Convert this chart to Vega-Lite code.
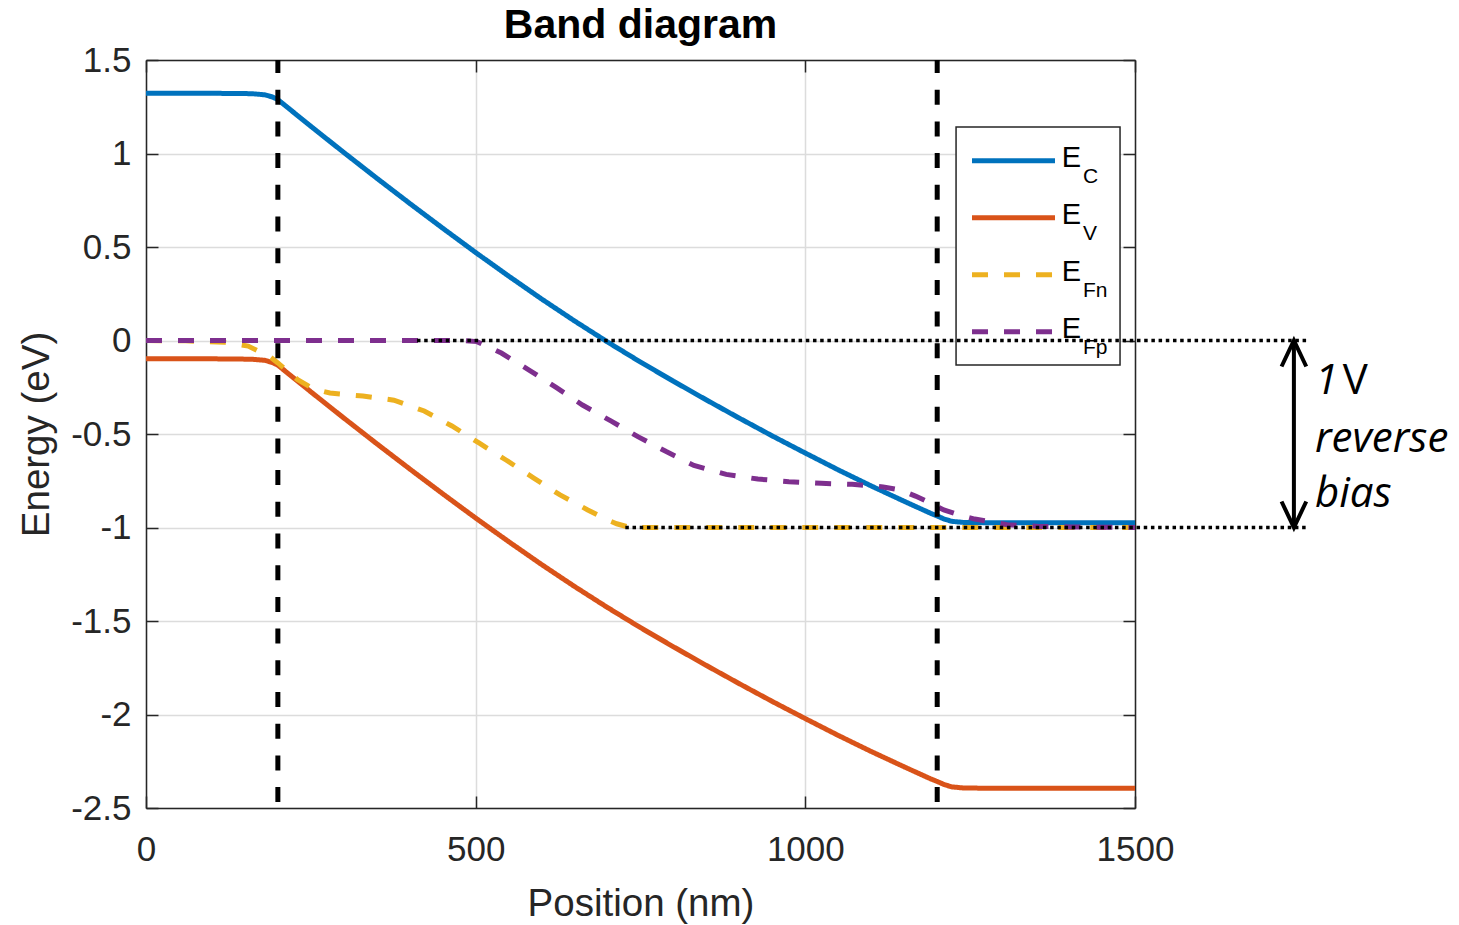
{
  "$schema": "https://vega.github.io/schema/vega-lite/v6.json",
  "width": 989,
  "height": 748,
  "autosize": "none",
  "padding": {"left": 146, "top": 60, "right": 324, "bottom": 117},
  "background": "white",
  "config": {
    "view": {"stroke": null},
    "axis": {
      "domainColor": "#262626",
      "domainWidth": 1.5,
      "tickColor": "#262626",
      "tickWidth": 1.5,
      "tickSize": -12,
      "gridColor": "#dcdcdc",
      "gridWidth": 1.5,
      "labelFont": "Liberation Sans",
      "labelFontSize": 35,
      "labelColor": "#262626",
      "labelFlush": false,
      "labelOverlap": false,
      "titleFont": "Liberation Sans",
      "titleFontSize": 38.5,
      "titleFontWeight": "normal",
      "titleColor": "#262626"
    }
  },
  "datasets": {
    "bands": [
      {"band": "E_C", "position": 0, "energy": 1.322},
      {"band": "E_C", "position": 100, "energy": 1.322},
      {"band": "E_C", "position": 160, "energy": 1.32},
      {"band": "E_C", "position": 180, "energy": 1.314},
      {"band": "E_C", "position": 192, "energy": 1.302},
      {"band": "E_C", "position": 200, "energy": 1.288},
      {"band": "E_C", "position": 250, "energy": 1.1455},
      {"band": "E_C", "position": 300, "energy": 1.0055},
      {"band": "E_C", "position": 350, "energy": 0.868},
      {"band": "E_C", "position": 400, "energy": 0.733},
      {"band": "E_C", "position": 450, "energy": 0.6005},
      {"band": "E_C", "position": 500, "energy": 0.4705},
      {"band": "E_C", "position": 550, "energy": 0.3445},
      {"band": "E_C", "position": 600, "energy": 0.222},
      {"band": "E_C", "position": 650, "energy": 0.1045},
      {"band": "E_C", "position": 700, "energy": -0.008},
      {"band": "E_C", "position": 750, "energy": -0.1155},
      {"band": "E_C", "position": 800, "energy": -0.218},
      {"band": "E_C", "position": 850, "energy": -0.318},
      {"band": "E_C", "position": 900, "energy": -0.4155},
      {"band": "E_C", "position": 950, "energy": -0.5105},
      {"band": "E_C", "position": 977, "energy": -0.56},
      {"band": "E_C", "position": 1000, "energy": -0.602},
      {"band": "E_C", "position": 1050, "energy": -0.692},
      {"band": "E_C", "position": 1100, "energy": -0.778},
      {"band": "E_C", "position": 1150, "energy": -0.86},
      {"band": "E_C", "position": 1190, "energy": -0.924},
      {"band": "E_C", "position": 1200, "energy": -0.938},
      {"band": "E_C", "position": 1210, "energy": -0.954},
      {"band": "E_C", "position": 1222, "energy": -0.967},
      {"band": "E_C", "position": 1240, "energy": -0.973},
      {"band": "E_C", "position": 1300, "energy": -0.975},
      {"band": "E_C", "position": 1500, "energy": -0.975},
      {"band": "E_V", "position": 0, "energy": -0.098},
      {"band": "E_V", "position": 100, "energy": -0.098},
      {"band": "E_V", "position": 160, "energy": -0.1},
      {"band": "E_V", "position": 180, "energy": -0.106},
      {"band": "E_V", "position": 192, "energy": -0.118},
      {"band": "E_V", "position": 200, "energy": -0.132},
      {"band": "E_V", "position": 250, "energy": -0.2745},
      {"band": "E_V", "position": 300, "energy": -0.4145},
      {"band": "E_V", "position": 350, "energy": -0.552},
      {"band": "E_V", "position": 400, "energy": -0.687},
      {"band": "E_V", "position": 450, "energy": -0.8195},
      {"band": "E_V", "position": 500, "energy": -0.9495},
      {"band": "E_V", "position": 550, "energy": -1.0755},
      {"band": "E_V", "position": 600, "energy": -1.198},
      {"band": "E_V", "position": 650, "energy": -1.3155},
      {"band": "E_V", "position": 700, "energy": -1.428},
      {"band": "E_V", "position": 750, "energy": -1.5355},
      {"band": "E_V", "position": 800, "energy": -1.638},
      {"band": "E_V", "position": 850, "energy": -1.738},
      {"band": "E_V", "position": 900, "energy": -1.8355},
      {"band": "E_V", "position": 950, "energy": -1.9305},
      {"band": "E_V", "position": 977, "energy": -1.98},
      {"band": "E_V", "position": 1000, "energy": -2.022},
      {"band": "E_V", "position": 1050, "energy": -2.112},
      {"band": "E_V", "position": 1100, "energy": -2.198},
      {"band": "E_V", "position": 1150, "energy": -2.28},
      {"band": "E_V", "position": 1190, "energy": -2.344},
      {"band": "E_V", "position": 1200, "energy": -2.358},
      {"band": "E_V", "position": 1210, "energy": -2.374},
      {"band": "E_V", "position": 1222, "energy": -2.387},
      {"band": "E_V", "position": 1240, "energy": -2.393},
      {"band": "E_V", "position": 1300, "energy": -2.395},
      {"band": "E_V", "position": 1500, "energy": -2.395},
      {"band": "E_Fn", "position": 0, "energy": 0},
      {"band": "E_Fn", "position": 60, "energy": -0.002},
      {"band": "E_Fn", "position": 120, "energy": -0.01},
      {"band": "E_Fn", "position": 155, "energy": -0.03},
      {"band": "E_Fn", "position": 188, "energy": -0.087},
      {"band": "E_Fn", "position": 200, "energy": -0.12},
      {"band": "E_Fn", "position": 230, "energy": -0.21},
      {"band": "E_Fn", "position": 255, "energy": -0.26},
      {"band": "E_Fn", "position": 279, "energy": -0.281},
      {"band": "E_Fn", "position": 329, "energy": -0.297},
      {"band": "E_Fn", "position": 376, "energy": -0.319},
      {"band": "E_Fn", "position": 422, "energy": -0.377},
      {"band": "E_Fn", "position": 464, "energy": -0.457},
      {"band": "E_Fn", "position": 505, "energy": -0.548},
      {"band": "E_Fn", "position": 546, "energy": -0.639},
      {"band": "E_Fn", "position": 587, "energy": -0.733},
      {"band": "E_Fn", "position": 628, "energy": -0.826},
      {"band": "E_Fn", "position": 670, "energy": -0.906},
      {"band": "E_Fn", "position": 700, "energy": -0.96},
      {"band": "E_Fn", "position": 714, "energy": -0.98},
      {"band": "E_Fn", "position": 734, "energy": -1.0},
      {"band": "E_Fn", "position": 1500, "energy": -1.0},
      {"band": "E_Fp", "position": 0, "energy": 0},
      {"band": "E_Fp", "position": 480, "energy": 0},
      {"band": "E_Fp", "position": 502, "energy": -0.006},
      {"band": "E_Fp", "position": 520, "energy": -0.035},
      {"band": "E_Fp", "position": 539, "energy": -0.067},
      {"band": "E_Fp", "position": 581, "energy": -0.158},
      {"band": "E_Fp", "position": 622, "energy": -0.251},
      {"band": "E_Fp", "position": 662, "energy": -0.345},
      {"band": "E_Fp", "position": 705, "energy": -0.43},
      {"band": "E_Fp", "position": 746, "energy": -0.514},
      {"band": "E_Fp", "position": 789, "energy": -0.594},
      {"band": "E_Fp", "position": 831, "energy": -0.668},
      {"band": "E_Fp", "position": 880, "energy": -0.716},
      {"band": "E_Fp", "position": 928, "energy": -0.741},
      {"band": "E_Fp", "position": 975, "energy": -0.755},
      {"band": "E_Fp", "position": 1024, "energy": -0.764},
      {"band": "E_Fp", "position": 1071, "energy": -0.769},
      {"band": "E_Fp", "position": 1118, "energy": -0.783},
      {"band": "E_Fp", "position": 1145, "energy": -0.8},
      {"band": "E_Fp", "position": 1167, "energy": -0.832},
      {"band": "E_Fp", "position": 1190, "energy": -0.87},
      {"band": "E_Fp", "position": 1210, "energy": -0.906},
      {"band": "E_Fp", "position": 1235, "energy": -0.935},
      {"band": "E_Fp", "position": 1257, "energy": -0.955},
      {"band": "E_Fp", "position": 1306, "energy": -0.985},
      {"band": "E_Fp", "position": 1354, "energy": -0.994},
      {"band": "E_Fp", "position": 1401, "energy": -0.997},
      {"band": "E_Fp", "position": 1500, "energy": -1.0}
    ],
    "interfaces": [
      {"position": 200},
      {"position": 1200}
    ],
    "legendItems": [
      {"band": "E_C", "sub": "C"},
      {"band": "E_V", "sub": "V"},
      {"band": "E_Fn", "sub": "Fn"},
      {"band": "E_Fp", "sub": "Fp"}
    ],
    "biasLevels": [
      {"start": 411, "end": 1762, "energy": 0},
      {"start": 727, "end": 1762, "energy": -1}
    ],
    "biasArrow": [
      {"position": 1741, "from": 0, "to": -1}
    ],
    "biasItalic": [
      {"label": "1", "position": 1773, "energy": -0.286},
      {"label": "reverse", "position": 1773, "energy": -0.595},
      {"label": "bias", "position": 1773, "energy": -0.89}
    ],
    "biasUnit": [
      {"label": "V", "position": 1815, "energy": -0.286}
    ]
  },
  "layer": [
    {
      "layer": [
        {
          "data": {"name": "bands"},
          "mark": {"type": "line", "strokeWidth": 5, "strokeCap": "butt"},
          "encoding": {
            "x": {
              "field": "position",
              "type": "quantitative",
              "scale": {"domain": [0, 1500], "nice": false, "zero": false},
              "axis": {
                "orient": "bottom",
                "title": "Position (nm)",
                "values": [0, 500, 1000, 1500],
                "format": "d",
                "grid": true,
                "labelBaseline": "alphabetic",
                "labelPadding": 64,
                "titleBaseline": "alphabetic",
                "titleY": 107
              }
            },
            "y": {
              "field": "energy",
              "type": "quantitative",
              "scale": {"domain": [-2.5, 1.5], "nice": false, "zero": false},
              "axis": {
                "orient": "left",
                "title": "Energy (eV)",
                "values": [-2.5, -2, -1.5, -1, -0.5, 0, 0.5, 1, 1.5],
                "labelExpr": "replace(format(datum.value, ''), '\u2212', '-')",
                "grid": true,
                "labelPadding": 27,
                "titleBaseline": "alphabetic",
                "titleX": -98
              }
            },
            "color": {
              "field": "band",
              "type": "nominal",
              "scale": {
                "domain": ["E_C", "E_V", "E_Fn", "E_Fp"],
                "range": ["#0072BD", "#D95319", "#EDB120", "#7E2F8E"]
              },
              "legend": null
            },
            "strokeDash": {
              "field": "band",
              "type": "nominal",
              "scale": {
                "domain": ["E_C", "E_V", "E_Fn", "E_Fp"],
                "range": [[1, 0], [1, 0], [16, 16], [16, 16]]
              },
              "legend": null
            }
          }
        },
        {
          "data": {"name": "interfaces"},
          "mark": {"type": "rule", "strokeWidth": 5, "color": "#000000", "strokeDash": [15, 16.7], "strokeDashOffset": 2},
          "encoding": {
            "x": {"field": "position", "type": "quantitative", "scale": {"domain": [0, 1500], "nice": false, "zero": false}}
          }
        },
        {
          "data": {"values": [{}]},
          "mark": {"type": "rect", "fill": "white", "stroke": "#262626", "strokeWidth": 1.5},
          "encoding": {
            "x": {"datum": 1228.6, "type": "quantitative", "scale": {"domain": [0, 1500], "nice": false, "zero": false}},
            "x2": {"datum": 1477.3},
            "y": {"datum": 1.1417, "type": "quantitative"},
            "y2": {"datum": -0.131}
          }
        }
      ]
    },
    {
      "data": {"name": "legendItems"},
      "encoding": {
        "y": {
          "field": "band",
          "type": "ordinal",
          "scale": {"type": "point", "domain": ["E_C", "E_V", "E_Fn", "E_Fp"], "range": [100.7, 271.7], "padding": 0},
          "axis": null
        }
      },
      "layer": [
        {
          "mark": {"type": "rule", "strokeWidth": 5, "strokeCap": "butt"},
          "encoding": {
            "x": {"datum": 1252.8, "type": "quantitative", "scale": {"domain": [0, 1500], "nice": false, "zero": false}, "axis": null},
            "x2": {"datum": 1378.7},
            "color": {"field": "band", "type": "nominal", "legend": null},
            "strokeDash": {"field": "band", "type": "nominal", "legend": null}
          }
        },
        {
          "mark": {"type": "text", "text": "E", "font": "Liberation Sans", "fontSize": 29, "align": "left", "baseline": "alphabetic", "dy": 6, "color": "#000000"},
          "encoding": {
            "x": {"datum": 1388.9, "type": "quantitative", "axis": null}
          }
        },
        {
          "mark": {"type": "text", "font": "Liberation Sans", "fontSize": 21, "align": "left", "baseline": "alphabetic", "dy": 22, "color": "#000000"},
          "encoding": {
            "x": {"datum": 1421.2, "type": "quantitative", "axis": null},
            "text": {"field": "sub"}
          }
        }
      ]
    },
    {
      "layer": [
        {
          "data": {"name": "biasLevels"},
          "mark": {"type": "rule", "strokeWidth": 3.5, "color": "#000000", "strokeDash": [3.5, 3.7], "strokeCap": "butt"},
          "encoding": {
            "x": {
              "field": "start",
              "type": "quantitative",
              "scale": {"domain": [0, 1500], "nice": false, "zero": false},
              "axis": {"orient": "top", "labels": false, "grid": false, "title": null, "values": [0, 500, 1000, 1500]}
            },
            "x2": {"field": "end"},
            "y": {
              "field": "energy",
              "type": "quantitative",
              "scale": {"domain": [-2.5, 1.5], "nice": false, "zero": false},
              "axis": {"orient": "right", "labels": false, "grid": false, "title": null, "values": [-2.5, -2, -1.5, -1, -0.5, 0, 0.5, 1, 1.5]}
            }
          }
        },
        {
          "data": {"name": "biasArrow"},
          "mark": {"type": "rule", "strokeWidth": 4, "color": "#000000"},
          "encoding": {
            "x": {"field": "position", "type": "quantitative"},
            "y": {"field": "from", "type": "quantitative"},
            "y2": {"field": "to"}
          }
        },
        {
          "data": {"name": "biasArrow"},
          "mark": {"type": "point", "shape": "M -0.95 2 L 0 0 L 0.95 2", "size": 676, "filled": false, "strokeWidth": 4, "color": "#000000", "opacity": 1},
          "encoding": {
            "x": {"field": "position", "type": "quantitative"},
            "y": {"field": "from", "type": "quantitative"}
          }
        },
        {
          "data": {"name": "biasArrow"},
          "mark": {"type": "point", "shape": "M -0.95 -2 L 0 0 L 0.95 -2", "size": 676, "filled": false, "strokeWidth": 4, "color": "#000000", "opacity": 1},
          "encoding": {
            "x": {"field": "position", "type": "quantitative"},
            "y": {"field": "to", "type": "quantitative"}
          }
        },
        {
          "data": {"name": "biasItalic"},
          "mark": {"type": "text", "font": "Open Sans", "fontStyle": "italic", "fontSize": 42, "align": "left", "baseline": "alphabetic", "color": "#000000"},
          "encoding": {
            "x": {"field": "position", "type": "quantitative"},
            "y": {"field": "energy", "type": "quantitative"},
            "text": {"field": "label"}
          }
        },
        {
          "data": {"name": "biasUnit"},
          "mark": {"type": "text", "font": "Open Sans", "fontSize": 42, "align": "left", "baseline": "alphabetic", "color": "#000000"},
          "encoding": {
            "x": {"field": "position", "type": "quantitative"},
            "y": {"field": "energy", "type": "quantitative"},
            "text": {"field": "label"}
          }
        },
        {
          "data": {"values": [{}]},
          "mark": {"type": "text", "font": "Liberation Sans", "fontSize": 41, "fontWeight": "bold", "align": "center", "baseline": "alphabetic", "color": "#000000"},
          "encoding": {
            "x": {"datum": 750, "type": "quantitative"},
            "y": {"datum": 1.6176, "type": "quantitative"},
            "text": {"value": "Band diagram"}
          }
        }
      ]
    }
  ],
  "resolve": {
    "scale": {"y": "independent"},
    "axis": {"x": "independent", "y": "independent"}
  }
}
